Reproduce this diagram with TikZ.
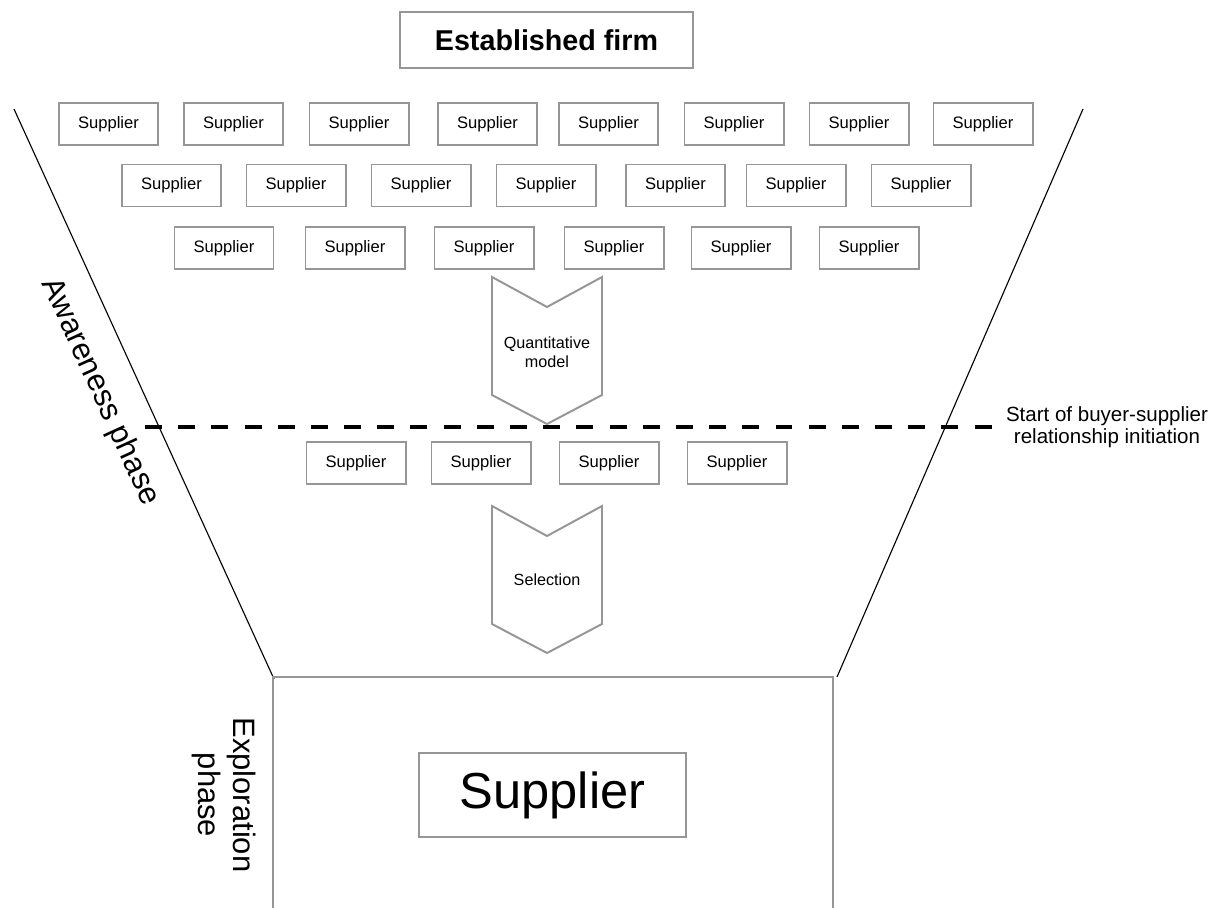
\documentclass[tikz,border=0pt]{standalone}
\usepackage{fontspec}
\setmainfont{Liberation Sans}
\definecolor{boxgray}{RGB}{150,150,150}
\begin{document}
\begin{tikzpicture}[x=0.025cm,y=-0.025cm,
  sbox/.style={draw=boxgray, line width=1.4pt, minimum width=2.475cm, minimum height=1.05cm,
    inner sep=0pt, font=\fontsize{11.8}{14}\selectfont},
  titlebox/.style={draw=boxgray, line width=1.4pt, minimum width=7.325cm, minimum height=1.4cm,
    inner sep=0pt, font=\fontsize{20.4}{24}\selectfont\bfseries},
  bigbox/.style={draw=boxgray, line width=1.4pt, minimum width=6.675cm, minimum height=2.1cm,
    inner sep=0pt, font=\fontsize{36}{40}\selectfont},
  chevline/.style={draw=boxgray, line width=1.4pt, line join=miter},
  chevtext/.style={align=center, inner sep=0pt, font=\fontsize{11.5}{13.5}\selectfont},
  funnel/.style={draw=black, line width=0.8pt},
  phase/.style={inner sep=0pt, font=\fontsize{22}{25}\selectfont},
  chev/.pic={\draw[chevline] (-55,0) -- (0,30) -- (55,0) -- (55,118) -- (0,147) -- (-55,118) -- cycle;}
]
\useasboundingbox (0,0) rectangle (1218,908);

% established firm
\node[titlebox] (firm) at (546.5,40) {Established firm};

% funnel sides
\coordinate (fl1) at (14,109);
\coordinate (fl2) at (274,679);
\coordinate (fr1) at (1083,109);
\coordinate (fr2) at (837,677);
\draw[funnel] (fl1) -- (fl2);
\draw[funnel] (fr1) -- (fr2);

% candidate suppliers
\foreach \x [count=\i] in {108.5,233.5,359,487.5,608.5,734,859,983}
  \node[sbox] (ra\i) at (\x,124) {Supplier};
\foreach \x [count=\i] in {171.5,296,421,546,675.5,796,921}
  \node[sbox] (rb\i) at (\x,185.5) {Supplier};
\foreach \x [count=\i] in {224,355,484,614,741,869}
  \node[sbox] (rc\i) at (\x,248) {Supplier};

% first filter
\pic at (547,277) {chev};
\node[chevtext] (quant) at (547,352) {Quantitative\\model};

% start of relationship initiation
\coordinate (dl) at (145,427);
\coordinate (dr) at (993,427);
\draw[line width=2.83pt, dash pattern=on 12.05pt off 11.55pt] (dl) -- (dr);
\node[align=center, inner sep=0pt, font=\fontsize{14.6}{16}\selectfont] (init) at (1107,427)
  {Start of buyer-supplier\\relationship initiation};

% shortlisted suppliers
\foreach \x [count=\i] in {356,481,609,737}
  \node[sbox] (rd\i) at (\x,463) {Supplier};

% second filter
\pic at (547,506) {chev};
\node[chevtext] (sel) at (547,580) {Selection};

% exploration area
\draw[draw=boxgray, line width=1.4pt] (273,910) -- (273,677) -- (833,677) -- (833,910);
\node[bigbox] (final) at (552.5,795) {Supplier};

% phase labels
\node[phase, rotate=-65.5] (aware) at (100,392) {Awareness phase};
\node[phase, rotate=-90, align=center] (explore) at (224,795) {Exploration\\phase};
\end{tikzpicture}
\end{document}
